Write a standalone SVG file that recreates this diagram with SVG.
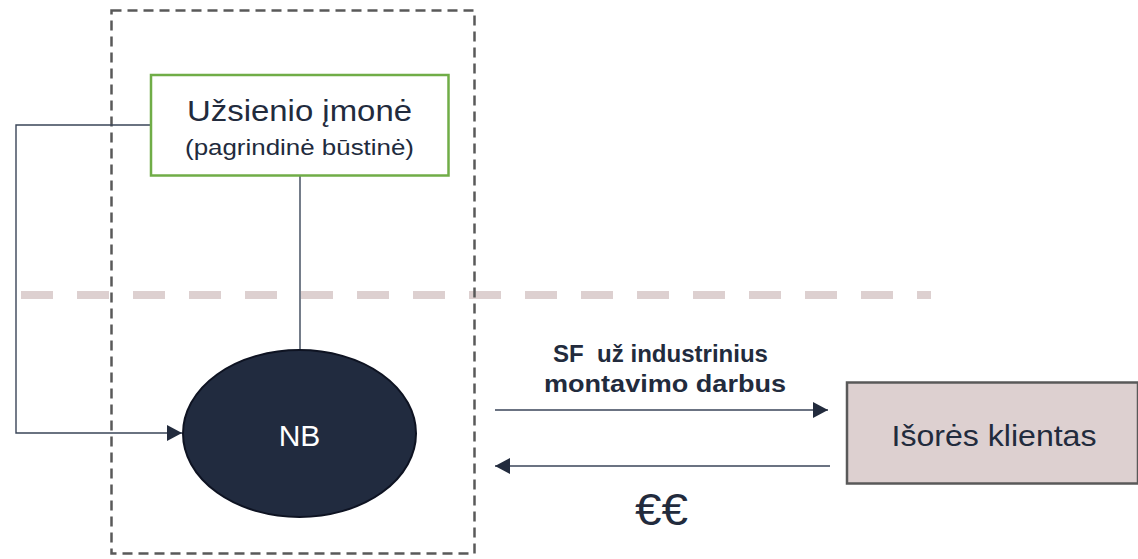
<svg xmlns="http://www.w3.org/2000/svg" width="1138" height="559" viewBox="0 0 1138 559">
  <style>
    .t { font-family: "Liberation Sans", Arial, sans-serif; fill: #222B3D; }
    .conn { fill: none; stroke: #3A4558; stroke-width: 1.4; }
  </style>
  <defs>
    <marker id="arr" markerWidth="16" markerHeight="16" refX="15" refY="8" orient="auto" markerUnits="userSpaceOnUse">
      <path d="M0,0 L15,8 L0,16 Z" fill="#222B3D"/>
    </marker>
  </defs>
  <rect width="1138" height="559" fill="#ffffff"/>

  <!-- separators / frames -->
  <g id="boundary">
    <line x1="21" y1="295" x2="931" y2="295" stroke="#DDD0D0" stroke-width="8" stroke-dasharray="32 24"/>
    <rect x="111.5" y="10.5" width="363" height="543" fill="none" stroke="#595959" stroke-width="2.5" stroke-dasharray="10 6"/>
  </g>

  <!-- connectors -->
  <g id="connectors">
    <polyline class="conn" points="151,125 16,125 16,433 182,433" marker-end="url(#arr)"/>
    <line class="conn" x1="300" y1="176" x2="300" y2="350"/>
    <line class="conn" x1="495" y1="410" x2="828" y2="410" marker-end="url(#arr)"/>
    <line class="conn" x1="830" y1="466" x2="495" y2="466" marker-end="url(#arr)"/>
  </g>

  <g id="node-uzsienio">
    <rect x="151" y="75" width="297.5" height="100.5" fill="#ffffff" stroke="#70AD47" stroke-width="2.5"/>
    <text class="t" x="299.5" y="121" font-size="30" text-anchor="middle" textLength="225" lengthAdjust="spacingAndGlyphs">Užsienio įmonė</text>
    <text class="t" x="299.5" y="155" font-size="22" text-anchor="middle" textLength="229" lengthAdjust="spacingAndGlyphs">(pagrindinė būstinė)</text>
  </g>

  <g id="node-nb">
    <ellipse cx="299.5" cy="433.5" rx="116.5" ry="83.5" fill="#212B3F" stroke="#0E1322" stroke-width="2"/>
    <text x="299.5" y="446" font-family="Liberation Sans, Arial, sans-serif" font-size="30" fill="#ffffff" text-anchor="middle">NB</text>
  </g>

  <g id="node-klientas">
    <rect x="847" y="382.5" width="291" height="101" fill="#DDD0D0" stroke="#595959" stroke-width="2.5"/>
    <text class="t" x="994" y="446" font-size="30" text-anchor="middle" textLength="205" lengthAdjust="spacingAndGlyphs">Išorės klientas</text>
  </g>

  <g id="labels">
    <text class="t" x="660.5" y="362" font-size="24" font-weight="bold" text-anchor="middle" textLength="215" lengthAdjust="spacingAndGlyphs" xml:space="preserve">SF  už industrinius</text>
    <text class="t" x="665" y="391.5" font-size="24" font-weight="bold" text-anchor="middle" textLength="242" lengthAdjust="spacingAndGlyphs">montavimo darbus</text>
    <text class="t" x="661.5" y="525" font-size="44" text-anchor="middle" textLength="53" lengthAdjust="spacingAndGlyphs">€€</text>
  </g>
</svg>
